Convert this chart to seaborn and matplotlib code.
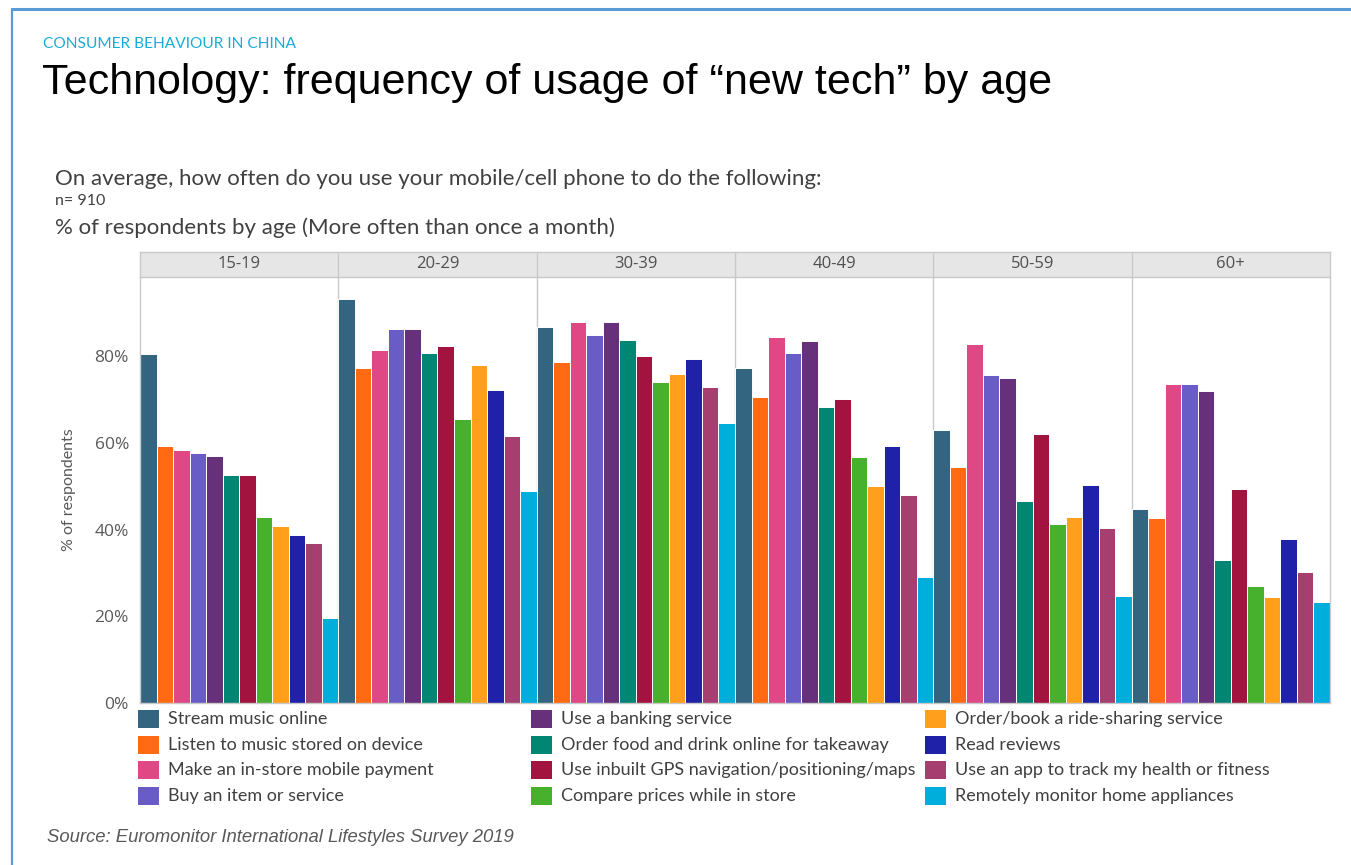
import matplotlib
matplotlib.use("Agg")
import matplotlib.pyplot as plt
from matplotlib.patches import Rectangle
from matplotlib.lines import Line2D
import pandas as pd
import seaborn as sns

# ---- data -------------------------------------------------------------
ages = ["15-19", "20-29", "30-39", "40-49", "50-59", "60+"]

activities = [
    "Stream music online",
    "Listen to music stored on device",
    "Make an in-store mobile payment",
    "Buy an item or service",
    "Use a banking service",
    "Order food and drink online for takeaway",
    "Use inbuilt GPS navigation/positioning/maps",
    "Compare prices while in store",
    "Order/book a ride-sharing service",
    "Read reviews",
    "Use an app to track my health or fitness",
    "Remotely monitor home appliances",
]

# % of respondents, one list per age band (same order as activities)
pct_15_19 = [80.5, 59.2, 58.3, 57.8, 56.9, 52.7, 52.7, 43.0, 40.9, 38.8, 37.0, 19.6]
pct_20_29 = [93.3, 77.3, 81.5, 86.4, 86.4, 80.8, 82.4, 65.5, 77.9, 72.2, 61.7, 49.0]
pct_30_39 = [86.8, 78.8, 88.0, 85.0, 88.0, 83.8, 80.0, 74.1, 75.9, 79.4, 72.9, 64.6]
pct_40_49 = [77.3, 70.5, 84.4, 80.8, 83.5, 68.4, 70.1, 56.8, 50.0, 59.2, 48.0, 29.0]
pct_50_59 = [63.1, 54.5, 82.9, 75.8, 75.1, 46.6, 62.0, 41.2, 43.0, 50.3, 40.3, 24.6]
pct_60_up = [44.7, 42.7, 73.7, 73.7, 72.0, 32.9, 49.3, 26.9, 24.4, 37.9, 30.3, 23.2]

y_ticks = [0, 20, 40, 60, 80]
y_tick_labels = ["0%", "20%", "40%", "60%", "80%"]

palette = [
    "#336580", "#FF6A13", "#E04885", "#6A5CC6", "#66307A", "#008673",
    "#A3133F", "#47B02C", "#FF9F1C", "#1F22A8", "#A63E70", "#00AEDB",
]

series = [pct_15_19, pct_20_29, pct_30_39, pct_40_49, pct_50_59, pct_60_up]
df = pd.DataFrame(
    [(age, act, v) for age, vals in zip(ages, series) for act, v in zip(activities, vals)],
    columns=["age", "activity", "value"],
)

# ---- figure -----------------------------------------------------------
W, H = 1351, 865
sns.set_theme(style="white")
plt.rcParams["font.family"] = ["Lato", "DejaVu Sans"]
fig = plt.figure(figsize=(W / 100, H / 100), dpi=100)
fig.patch.set_facecolor("white")


def fx(x):
    return x / W


def fy(y):
    return 1 - y / H


GRID = "#c9c9c9"
TXT = "#404040"

# blue page frame
fig.add_artist(Line2D([fx(12), fx(W)], [fy(9), fy(9)], color="#5B9BD5", lw=2.2))
fig.add_artist(Line2D([fx(12), fx(12)], [fy(9), 0], color="#5B9BD5", lw=1.6))

# headings
fig.text(fx(43), fy(44), "CONSUMER BEHAVIOUR IN CHINA", color="#1AACD8",
         fontsize=11.2, va="center", ha="left")
fig.text(fx(42), fy(83), "Technology: frequency of usage of \u201cnew tech\u201d by age",
         family=["Liberation Sans", "DejaVu Sans"], fontsize=31, color="black",
         va="center", ha="left")
fig.text(fx(55), fy(179), "On average, how often do you use your mobile/cell phone to do the following:",
         fontsize=16, color=TXT, va="center", ha="left")
fig.text(fx(55), fy(201), "n= 910", fontsize=11.5, color=TXT, va="center", ha="left")
fig.text(fx(55), fy(228), "% of respondents by age (More often than once a month)",
         fontsize=16, color=TXT, va="center", ha="left")

# ---- bars -------------------------------------------------------------
left, right, top, bottom = 140, 1330, 277, 703
ax = fig.add_axes([fx(left), fy(bottom), fx(right - left), (bottom - top) / H])
sns.barplot(data=df, x="age", y="value", hue="activity", order=ages,
            hue_order=activities, palette=palette, width=1.0,
            edgecolor="white", linewidth=0.7, saturation=1, legend=False, ax=ax)
ax.set_xlim(-0.5, len(ages) - 0.5)
ax.set_ylim(0, 98.3)
ax.set_xticks([])
ax.set_xlabel("")
ax.set_ylabel("")
ax.set_yticks(y_ticks)
ax.set_yticklabels(y_tick_labels, family=["Open Sans", "DejaVu Sans"],
                   fontsize=12.5, color="#595959")
ax.tick_params(axis="y", length=0, pad=8)
for i in range(1, len(ages)):
    ax.axvline(i - 0.5, color=GRID, lw=1.0, zorder=0.5)
for side in ["left", "right", "bottom"]:
    ax.spines[side].set_color(GRID)
    ax.spines[side].set_linewidth(1.0)
ax.spines["top"].set_visible(False)

fig.text(fx(69), fy((top + bottom) / 2), "% of respondents", rotation=90,
         fontsize=11.5, color="#595959", va="center", ha="center")

# facet strip headers
sax = fig.add_axes([fx(left), fy(top), fx(right - left), 25 / H])
sax.set_xlim(-0.5, len(ages) - 0.5)
sax.set_ylim(0, 1)
sax.set_facecolor("#e6e6e6")
sax.set_xticks([])
sax.set_yticks([])
for s in sax.spines.values():
    s.set_color(GRID)
    s.set_linewidth(1.0)
for i, age in enumerate(ages):
    sax.text(i, 0.5, age, ha="center", va="center", fontsize=12,
             family=["Open Sans", "DejaVu Sans"], color="#505050")
    if i:
        sax.axvline(i - 0.5, color=GRID, lw=1.0)

# ---- legend (three columns of four) -----------------------------------
col_x = [138, 531, 925]
for i, (name, col) in enumerate(zip(activities, palette)):
    c, r = divmod(i, 4)
    x0 = col_x[c]
    y0 = 710 + r * 25.7
    fig.add_artist(Rectangle((fx(x0), fy(y0 + 18)), fx(21), 18 / H,
                             facecolor=col, edgecolor="none"))
    fig.text(fx(x0 + 30), fy(y0 + 9), name, fontsize=13, color=TXT,
             va="center", ha="left")

fig.text(fx(47), fy(837), "Source: Euromonitor International Lifestyles Survey 2019",
         family=["Liberation Sans", "DejaVu Sans"], style="italic",
         fontsize=13.3, color="#595959", va="center", ha="left")

fig.savefig("out.png", dpi=100, facecolor="white")
